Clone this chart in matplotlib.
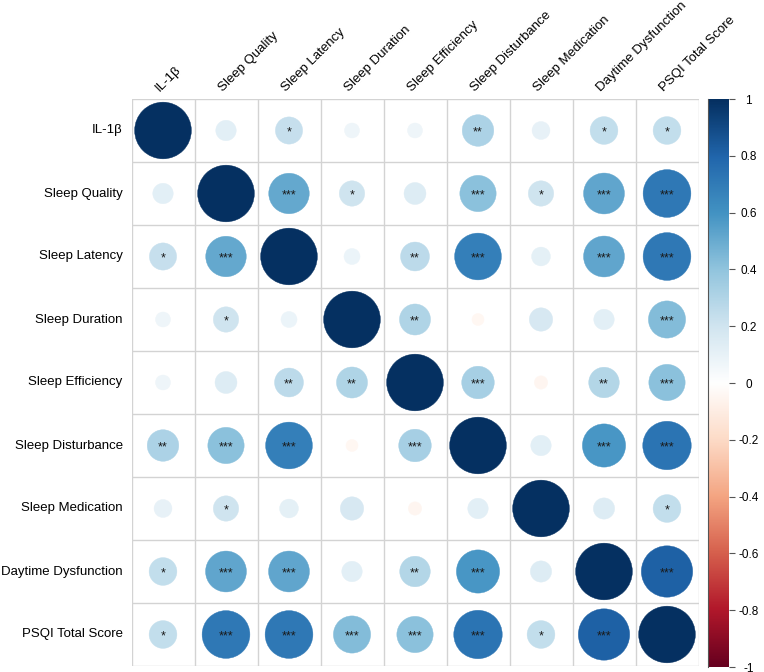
import numpy as np
import matplotlib
matplotlib.use("Agg")
import matplotlib.pyplot as plt
from matplotlib.colors import LinearSegmentedColormap
from matplotlib.patches import Circle

plt.rcParams['font.family'] = ['Liberation Sans', 'DejaVu Sans']

labels = ["IL-1\u03b2", "Sleep Quality", "Sleep Latency", "Sleep Duration",
          "Sleep Efficiency", "Sleep Disturbance", "Sleep Medication",
          "Daytime Dysfunction", "PSQI Total Score"]

# correlation matrix
corr = [
    [1.00, 0.13, 0.23, 0.07, 0.07, 0.31, 0.10, 0.24, 0.24],
    [0.13, 1.00, 0.51, 0.20, 0.15, 0.41, 0.20, 0.52, 0.71],
    [0.23, 0.51, 1.00, 0.08, 0.26, 0.68, 0.11, 0.52, 0.71],
    [0.07, 0.20, 0.08, 1.00, 0.30, -0.045, 0.17, 0.13, 0.43],
    [0.07, 0.15, 0.26, 0.30, 1.00, 0.33, -0.055, 0.29, 0.41],
    [0.31, 0.41, 0.68, -0.045, 0.33, 1.00, 0.13, 0.58, 0.73],
    [0.10, 0.20, 0.11, 0.17, -0.055, 0.13, 1.00, 0.14, 0.24],
    [0.24, 0.52, 0.52, 0.13, 0.29, 0.58, 0.14, 1.00, 0.82],
    [0.24, 0.71, 0.71, 0.43, 0.41, 0.73, 0.24, 0.82, 1.00],
]

stars = [
    ["", "", "*", "", "", "**", "", "*", "*"],
    ["", "", "***", "*", "", "***", "*", "***", "***"],
    ["*", "***", "", "", "**", "***", "", "***", "***"],
    ["", "*", "", "", "**", "", "", "", "***"],
    ["", "", "**", "**", "", "***", "", "**", "***"],
    ["**", "***", "***", "", "***", "", "", "***", "***"],
    ["", "*", "", "", "", "", "", "", "*"],
    ["*", "***", "***", "", "**", "***", "", "", "***"],
    ["*", "***", "***", "***", "***", "***", "*", "***", ""],
]

cbar_ticks = [-1, -0.8, -0.6, -0.4, -0.2, 0, 0.2, 0.4, 0.6, 0.8, 1]

# corrplot RdBu palette
col2 = ["#67001F", "#B2182B", "#D6604D", "#F4A582", "#FDDBC7", "#FFFFFF",
        "#D1E5F0", "#92C5DE", "#4393C3", "#2166AC", "#053061"]
cmap = LinearSegmentedColormap.from_list("corrRdBu", col2, N=200)

W, H = 764, 672
fig = plt.figure(figsize=(W / 100, H / 100), dpi=100)

n = len(labels)
x0, y0, cell = 131.5, 99.0, 63.0
ax = fig.add_axes([x0 / W, 1 - (y0 + n * cell) / H, n * cell / W, n * cell / H])
ax.set_xlim(0, n)
ax.set_ylim(n, 0)
ax.set_axis_off()

# grid
for k in range(n + 1):
    ax.plot([k, k], [0, n], color="#d3d3d3", lw=1, zorder=1)
    ax.plot([0, n], [k, k], color="#d3d3d3", lw=1, zorder=1)

corr = np.array(corr)
for i in range(n):
    for j in range(n):
        r = corr[i, j]
        rad = 0.45 * np.sqrt(abs(r))
        c = cmap((r + 1) / 2)
        ax.add_patch(Circle((j + 0.5, i + 0.5), rad, facecolor=c, edgecolor=c,
                            lw=0.3, zorder=2))
        if stars[i][j]:
            ax.text(j + 0.5, i + 0.585, stars[i][j], ha="center", va="baseline",
                    fontsize=9, color="#1a1a1a", zorder=3)

# row labels
for i, lab in enumerate(labels):
    ax.text(-0.14, i + 0.5, lab, ha="right", va="center", fontsize=9.5,
            color="black")

# column labels
for j, lab in enumerate(labels):
    ax.text(j + 0.45, -0.12, lab, ha="left", va="baseline", rotation=45,
            rotation_mode="anchor", fontsize=9.5, color="black")

# colorbar
cax = fig.add_axes([708 / W, 1 - 667 / H, 21 / W, 568 / H])
grad = np.linspace(-1, 1, 200).reshape(-1, 1)
cax.imshow(grad, cmap=cmap, aspect="auto", origin="lower",
           extent=[0, 1, -1, 1], vmin=-1, vmax=1)
cax.set_xlim(0, 1)
cax.set_ylim(-1, 1)
cax.set_xticks([])
cax.yaxis.tick_right()
cax.set_yticks(cbar_ticks)
cax.set_yticklabels(["{:g}".format(t) for t in cbar_ticks])
cax.tick_params(axis="y", length=4, width=0.8, color="#555555", pad=10,
                labelsize=8.5)
for lab in cax.get_yticklabels():
    lab.set_horizontalalignment("center")
for s in cax.spines.values():
    s.set_visible(False)
cax.spines["left"].set_visible(True)
cax.spines["left"].set_color("#555555")

fig.savefig("out.png", dpi=100)
